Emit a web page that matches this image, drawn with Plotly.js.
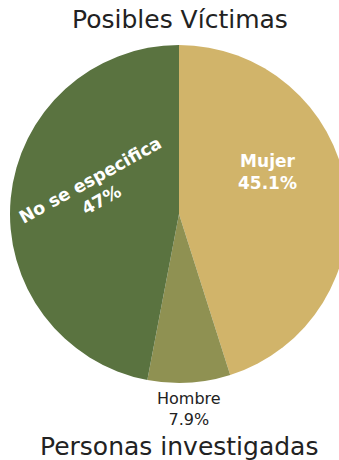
<!DOCTYPE html>
<html>
<head>
<meta charset="utf-8">
<script src="https://cdn.plot.ly/plotly-3.0.1.min.js"></script>
<style>
html,body{margin:0;padding:0;overflow:hidden;background:#fff;}
#chart{width:358px;height:460px;}
</style>
</head>
<body>
<div id="chart"></div>
<script>
const labels = ["Mujer", "Hombre", "No se especifica"];
const values = [45.1, 7.9, 47.0];
const colors = ["#D1B46A", "#8F9152", "#5A7340"];
const titleTop = "Posibles Víctimas";
const titleBottom = "Personas investigadas";

const FONT = "DejaVu Sans, sans-serif";
const W = 358, H = 460, MT = 45, MB = 77;
const plotH = H - MT - MB;
// pixel -> paper helpers (layout only)
const px = x => x / W;
const py = y => (H - MB - y) / plotH;

const labelText = i => labels[i] + "<br>" + values[i] + "%";

const labelPlacement = [
  {x: 267, y: 172, angle: 0, color: "#ffffff", bold: true, size: 17},
  {x: 189, y: 409, angle: 0, color: "#222222", bold: false, size: 16},
  {x: 95, y: 190, angle: -29, color: "#ffffff", bold: true, size: 17.5}
];

const annotations = labelPlacement.map((p, i) => ({
  text: labelText(i),
  x: px(p.x), y: py(p.y), xref: "paper", yref: "paper",
  xanchor: "center", yanchor: "middle",
  textangle: p.angle, showarrow: false,
  font: {family: FONT, size: p.size, color: p.color, weight: p.bold ? 700 : 400}
}));

annotations.push(
  {text: titleTop, x: px(180), y: py(20), xref: "paper", yref: "paper", xanchor: "center", yanchor: "middle", showarrow: false, font: {family: FONT, size: 25, color: "#222222"}},
  {text: titleBottom, x: px(179), y: py(446), xref: "paper", yref: "paper", xanchor: "center", yanchor: "middle", showarrow: false, font: {family: FONT, size: 25, color: "#222222"}}
);

Plotly.newPlot("chart", [{
  type: "pie",
  labels: labels,
  values: values,
  sort: false,
  direction: "clockwise",
  rotation: 0,
  marker: {colors: colors, line: {color: "#ffffff", width: 0}},
  textinfo: "none",
  showlegend: false,
  hoverinfo: "none"
}], {
  width: W,
  height: H,
  margin: {l: 0, r: 0, t: MT, b: MB},
  paper_bgcolor: "#ffffff",
  showlegend: false,
  annotations: annotations
}, {staticPlot: true});
</script>
</body>
</html>
